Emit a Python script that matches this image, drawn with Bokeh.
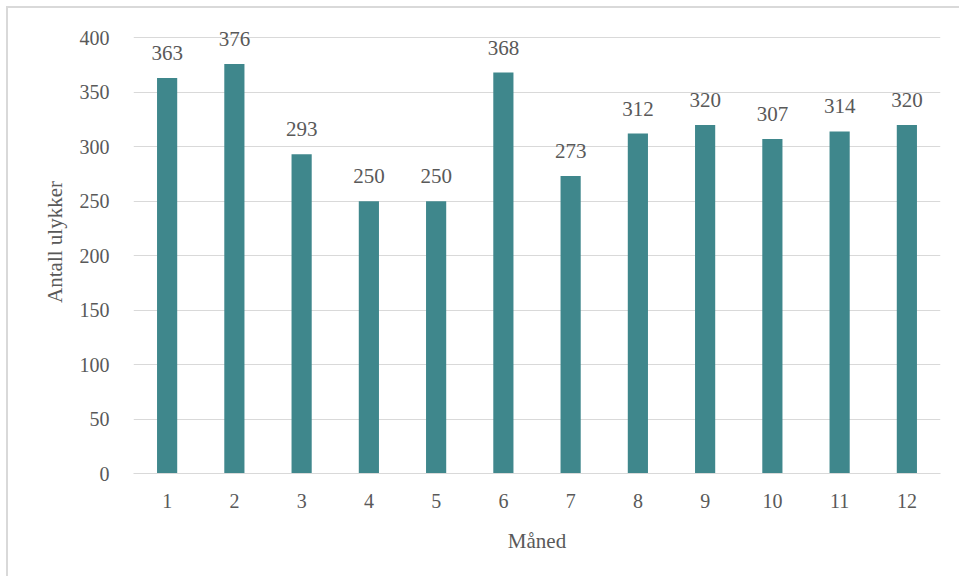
from bokeh.plotting import figure
from bokeh.models import ColumnDataSource, LabelSet, Range1d, FixedTicker
from bokeh.embed import file_html
from bokeh.resources import INLINE

months = ["1", "2", "3", "4", "5", "6", "7", "8", "9", "10", "11", "12"]
accidents = [363, 376, 293, 250, 250, 368, 273, 312, 320, 307, 314, 320]
y_ticks = [0, 50, 100, 150, 200, 250, 300, 350, 400]

FONT = "Liberation Serif"
TXT = "#595959"

src = ColumnDataSource(dict(m=months, v=accidents, lab=[str(v) for v in accidents]))

# frame extends above 400 so labels are not clipped; 400 gridline stays at page y≈37
p = figure(x_range=months, y_range=Range1d(0, 425), width=953, height=570,
           output_backend="svg", toolbar_location=None,
           min_border_left=125, min_border_right=21, min_border_top=2, min_border_bottom=105)
p.styles = {"margin-top": "6px", "margin-left": "6px",
            "border-top": "2px solid #d9d9d9", "border-left": "2px solid #d9d9d9"}

p.vbar(x="m", top="v", width=0.3, source=src, fill_color="#3F878C", line_color=None)

labels = LabelSet(x="m", y="v", text="lab", source=src, text_align="center",
                  text_baseline="bottom", y_offset=18, text_font=FONT,
                  text_font_size="21px", text_color=TXT)
p.add_layout(labels)

p.outline_line_color = None
p.xgrid.grid_line_color = None
p.ygrid.grid_line_color = "#d9d9d9"
p.ygrid.grid_line_width = 1

p.yaxis.ticker = FixedTicker(ticks=y_ticks)
for ax in (p.xaxis, p.yaxis):
    ax.major_tick_line_color = None
    ax.minor_tick_line_color = None
    ax.major_label_text_font = FONT
    ax.major_label_text_font_size = "20px"
    ax.major_label_text_color = TXT
    ax.axis_label_text_font = FONT
    ax.axis_label_text_font_size = "21px"
    ax.axis_label_text_color = TXT
    ax.axis_label_text_font_style = "normal"
p.yaxis.axis_line_color = None
p.xaxis.axis_line_color = "#d9d9d9"
p.yaxis.major_label_standoff = 18
p.xaxis.major_label_standoff = 14
p.xaxis.axis_label = "Måned"
p.yaxis.axis_label = "Antall ulykker"
p.xaxis.axis_label_standoff = 18
p.yaxis.axis_label_standoff = 10

open("out.html", "w").write(file_html(p, INLINE))
